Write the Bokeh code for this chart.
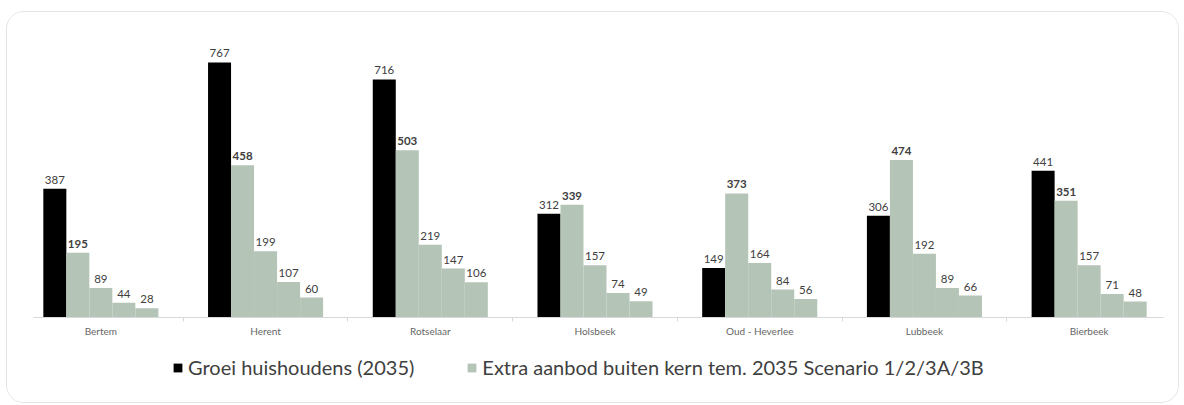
import numpy as np
from bokeh.plotting import figure
from bokeh.models import FixedTicker, Legend, LegendItem, Range1d
from bokeh.core.properties import value
from bokeh.embed import file_html
from bokeh.resources import INLINE

gemeenten = ["Bertem", "Herent", "Rotselaar", "Holsbeek", "Oud - Heverlee", "Lubbeek", "Bierbeek"]
groei = [387, 767, 716, 312, 149, 306, 441]
scen_1 = [195, 458, 503, 339, 373, 474, 351]
scen_2 = [89, 199, 219, 157, 164, 192, 157]
scen_3a = [44, 107, 147, 74, 84, 89, 71]
scen_3b = [28, 60, 106, 49, 56, 66, 48]
legend_labels = ["Groei huishoudens (2035)", "Extra aanbod buiten kern tem. 2035 Scenario 1/2/3A/3B"]

series = [groei, scen_1, scen_2, scen_3a, scen_3b]
BLACK = "#000000"
GREEN = "#b4c4b6"
colors = [BLACK, GREEN, GREEN, GREEN, GREEN]
bold = [False, True, False, False, False]
FONT = "Lato"

# frame spans the legend area too; the category axis is pinned at y = 0
p = figure(frame_width=1153, frame_height=377, x_range=Range1d(0, 7), y_range=Range1d(-240.6, 893.2),
           output_backend="svg", toolbar_location=None, y_axis_location=None,
           min_border_left=11, min_border_right=7, min_border_top=8, min_border_bottom=5)
p.margin = (11, 5, 2, 6)
p.styles = {"border": "1px solid #e4e4e4", "border-radius": "18px", "overflow": "hidden"}
p.xgrid.visible = False
p.ygrid.visible = False
p.outline_line_color = None
p.background_fill_color = "white"
p.border_fill_color = "white"

bw = 0.1397
idx = np.arange(len(gemeenten))
renderers = []
for j, vals in enumerate(series):
    xs = idx + 0.5 + (j - 2) * bw
    r = p.vbar(x=xs, top=vals, bottom=0, width=bw, fill_color=colors[j], line_color=None)
    renderers.append(r)
    p.text(x=xs, y=vals, text=[str(v) for v in vals], text_align="center",
           text_baseline="alphabetic", y_offset=-9, text_font=value(FONT),
           text_font_size="11.5px", text_color="#404040",
           text_font_style="bold" if bold[j] else "normal")

ax = p.xaxis[0]
ax.fixed_location = 0
ax.ticker = FixedTicker(ticks=[float(i) + 0.5 for i in idx], minor_ticks=[float(i) for i in range(1, 7)])
ax.major_label_overrides = {float(i) + 0.5: g for i, g in zip(idx, gemeenten)}
ax.axis_line_color = "#d9d9d9"
ax.axis_line_width = 1
ax.major_tick_line_color = None
ax.major_tick_out = 0
ax.major_tick_in = 0
ax.minor_tick_line_color = "#d9d9d9"
ax.minor_tick_out = 4
ax.minor_tick_in = 0
ax.major_label_standoff = 4
ax.major_label_text_font = FONT
ax.major_label_text_font_size = "10px"
ax.major_label_text_color = "#666666"
ax.bounds = (0.09, 6.95)

legend = Legend(items=[LegendItem(label=legend_labels[0], renderers=[renderers[0]]),
                       LegendItem(label=legend_labels[1], renderers=[renderers[1]])],
                orientation="horizontal", location=(154, 18),
                label_text_font=FONT, label_text_font_size="20px", label_text_color="#404040",
                glyph_width=11, glyph_height=11, label_standoff=5, spacing=52,
                background_fill_alpha=0, border_line_color=None, margin=0, padding=0)
p.add_layout(legend, "center")

open("out.html", "w").write(file_html(p, INLINE))
